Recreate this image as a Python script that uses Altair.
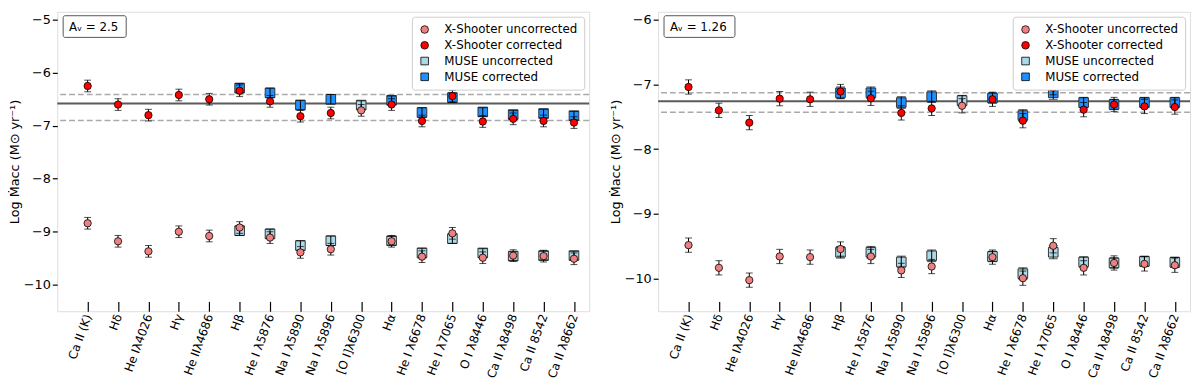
import json
import altair as alt
import pandas as pd

# ---------------- categories ----------------
LINES = ["Ca II (K)", "Hδ", "He Iλ4026", "Hγ", "He IIλ4686", "Hβ", "He I λ5876",
         "Na I λ5890", "Na I λ5896", "[O I]λ6300", "Hα", "He I λ6678", "He I λ7065",
         "O I λ8446", "Ca II λ8498", "Ca II 8542", "Ca II λ8662"]

SERIES = ["X-Shooter uncorrected", "X-Shooter corrected", "MUSE uncorrected", "MUSE corrected"]
COLORS = ["#f08080", "#ff0000", "#add8e6", "#1e90ff"]
SHAPES = ["circle", "circle", "square", "square"]

N = None
# ---------------- left panel (Av = 2.5) ----------------
L_AV = "Aᵥ = 2.5"
L_XS_UNC = [-8.84, -9.18, -9.37, -9.00, -9.08, -8.92, -9.11, -9.39, -9.33, -6.71,
            -9.18, -9.47, -9.03, -9.49, -9.45, -9.46, -9.51]
L_XS_COR = [-6.25, -6.60, -6.80, -6.42, -6.50, -6.34, -6.54, -6.82, -6.76, N,
            -6.60, -6.91, -6.44, -6.92, -6.87, -6.91, -6.94]
L_MU_UNC = [N, N, N, N, N, -8.98, -9.04, -9.26, -9.17, -6.61,
            -9.17, -9.40, -9.13, -9.40, -9.46, -9.45, -9.45]
L_MU_COR = [N, N, N, N, N, -6.29, -6.38, -6.61, -6.50, N,
            -6.52, -6.75, -6.47, -6.74, -6.79, -6.77, -6.81]
L_XS_ERR = [0.11, 0.11, 0.11, 0.11, 0.11, 0.11, 0.11, 0.11, 0.11, 0.11,
            0.11, 0.11, 0.11, 0.11, 0.11, 0.11, 0.11]
L_MU_ERR = [0.08, 0.08, 0.08, 0.08, 0.08, 0.09, 0.09, 0.09, 0.09, 0.08,
            0.08, 0.09, 0.09, 0.08, 0.08, 0.08, 0.08]
L_MEAN, L_LOW, L_HIGH = -6.58, -6.90, -6.41
L_YDOM = [-10.5, -4.85]
L_YTICKS = [-10, -9, -8, -7, -6, -5]

# ---------------- right panel (Av = 1.26) ----------------
R_AV = "Aᵥ = 1.26"
R_XS_UNC = [-9.48, -9.83, -10.02, -9.655, -9.665, -9.54, -9.655, -9.87, -9.81, -7.33,
            -9.665, -9.99, -9.49, -9.83, -9.755, -9.77, -9.79]
R_XS_COR = [-7.04, -7.40, -7.59, -7.22, -7.23, -7.11, -7.215, -7.44, -7.37, N,
            -7.23, -7.56, -7.05, -7.39, -7.31, -7.34, -7.35]
R_MU_UNC = [N, N, N, N, N, -9.59, -9.59, -9.74, -9.645, -7.25,
            -9.655, -9.92, -9.59, -9.74, -9.755, -9.73, -9.745]
R_MU_COR = [N, N, N, N, N, -7.13, -7.13, -7.28, -7.19, N,
            -7.21, -7.48, -7.13, -7.28, -7.31, -7.28, -7.28]
R_XS_ERR = [0.11, 0.11, 0.11, 0.11, 0.11, 0.11, 0.11, 0.11, 0.11, 0.11,
            0.11, 0.11, 0.11, 0.11, 0.11, 0.11, 0.11]
R_MU_ERR = [0.08, 0.08, 0.08, 0.08, 0.08, 0.09, 0.09, 0.09, 0.09, 0.08,
            0.08, 0.09, 0.10, 0.08, 0.08, 0.08, 0.08]
R_MEAN, R_LOW, R_HIGH = -7.26, -7.43, -7.13
R_YDOM = [-10.5, -5.88]
R_YTICKS = [-10, -9, -8, -7, -6]

YTITLE = "Log Ṁacc (M⊙ yr⁻¹)"
FONT = "DejaVu Sans"


def build_df(xs_unc, xs_cor, mu_unc, mu_cor, xs_err, mu_err):
    rows = []
    for name, vals, errs in [(SERIES[0], xs_unc, xs_err), (SERIES[1], xs_cor, xs_err),
                             (SERIES[2], mu_unc, mu_err), (SERIES[3], mu_cor, mu_err)]:
        for i, (v, e) in enumerate(zip(vals, errs)):
            if v is None:
                continue
            rows.append({"idx": i, "line": LINES[i], "series": name, "value": v,
                         "lo": v - e, "hi": v + e,
                         "inst": "XS" if name.startswith("X") else "MU"})
    return pd.DataFrame(rows)


label_expr = json.dumps(LINES, ensure_ascii=False) + "[datum.value]"


def panel(df, mean, low, high, ydom, yticks, av_text, box_w):
    xenc = alt.X("idx:Q",
                 scale=alt.Scale(domain=[-1, 16.5], nice=False, zero=False),
                 axis=alt.Axis(values=list(range(17)), labelExpr=label_expr, title=None,
                               offset=-10, tickSize=10, domain=False, grid=False,
                               labelOverlap=False,
                               labelAngle=290, labelAlign="right", labelBaseline="middle",
                               labelPadding=3, labelFontSize=12, labelFont=FONT,
                               labelColor="black", tickColor="black", tickWidth=1.2))
    yaxis = alt.Axis(values=yticks, title=YTITLE, grid=False, domain=False,
                     tickSize=5, tickColor="black", tickWidth=1.2,
                     labelFontSize=13, labelFont=FONT, labelColor="black", labelPadding=2,
                     titleFont=FONT, titleFontSize=13, titleFontWeight="normal",
                     titleColor="black", titlePadding=2)
    yscale = alt.Scale(domain=ydom, nice=False, zero=False)
    leg = alt.Legend(title=None, orient="top-right", offset=5, padding=7,
                     strokeColor="#cccccc", fillColor="white", cornerRadius=3,
                     labelFontSize=12, labelFont=FONT, labelColor="black",
                     symbolSize=60, symbolStrokeColor="black", symbolStrokeWidth=0.8,
                     rowPadding=4, labelOffset=14)
    color = alt.Color("series:N", scale=alt.Scale(domain=SERIES, range=COLORS), legend=leg)
    shape = alt.Shape("series:N", scale=alt.Scale(domain=SERIES, range=SHAPES), legend=leg)

    ref = pd.DataFrame({"value": [low, high]})
    dashed = alt.Chart(ref).mark_rule(color="#aaaaaa", strokeWidth=1.5, strokeDash=[6, 3]).encode(
        y=alt.Y("value:Q", scale=yscale, axis=yaxis))
    solid = alt.Chart(pd.DataFrame({"value": [mean]})).mark_rule(color="#5a5a5a", strokeWidth=2).encode(
        y=alt.Y("value:Q", scale=yscale, axis=yaxis))

    mu = df[df.inst == "MU"]
    xs = df[df.inst == "XS"]
    mu_pts = alt.Chart(mu).mark_point(filled=True, size=95, stroke="#333333", strokeWidth=1,
                                      opacity=1).encode(
        x=xenc, y=alt.Y("value:Q", scale=yscale, axis=yaxis), color=color, shape=shape)
    mu_err = alt.Chart(mu).mark_errorbar(ticks={"size": 9}, color="black", thickness=1).encode(
        x=xenc, y=alt.Y("lo:Q", scale=yscale, axis=yaxis), y2="hi:Q")
    xs_err = alt.Chart(xs).mark_errorbar(ticks={"size": 7}, color="black", thickness=1).encode(
        x=xenc, y=alt.Y("lo:Q", scale=yscale, axis=yaxis), y2="hi:Q")
    xs_pts = alt.Chart(xs).mark_point(filled=True, size=55, stroke="black", strokeWidth=0.8,
                                      opacity=1).encode(
        x=xenc, y=alt.Y("value:Q", scale=yscale, axis=yaxis), color=color, shape=shape)

    av = pd.DataFrame({"t": [av_text]})
    box = alt.Chart(av).mark_rect(fill="white", stroke="#555555", strokeWidth=1, cornerRadius=2).encode(
        x=alt.value(6), x2=alt.value(6 + box_w), y=alt.value(4), y2=alt.value(26))
    txt = alt.Chart(av).mark_text(align="left", baseline="middle", font=FONT, fontSize=12,
                                  color="black").encode(
        x=alt.value(12), y=alt.value(15), text="t:N")

    return alt.layer(dashed, solid, mu_pts, mu_err, xs_err, xs_pts, box, txt).properties(
        width=540, height=304)


left = panel(build_df(L_XS_UNC, L_XS_COR, L_MU_UNC, L_MU_COR, L_XS_ERR, L_MU_ERR),
             L_MEAN, L_LOW, L_HIGH, L_YDOM, L_YTICKS, L_AV, 64)
right = panel(build_df(R_XS_UNC, R_XS_COR, R_MU_UNC, R_MU_COR, R_XS_ERR, R_MU_ERR),
              R_MEAN, R_LOW, R_HIGH, R_YDOM, R_YTICKS, R_AV, 72)

chart = alt.hconcat(left, right, spacing=18).resolve_scale(
    x="independent", y="independent", color="independent", shape="independent"
).resolve_legend(color="independent", shape="independent").properties(
    padding=0
).configure_view(stroke="#999999", strokeWidth=1.5).configure(font=FONT)

chart.save("out.html", embed_options={"renderer": "svg", "actions": False})
